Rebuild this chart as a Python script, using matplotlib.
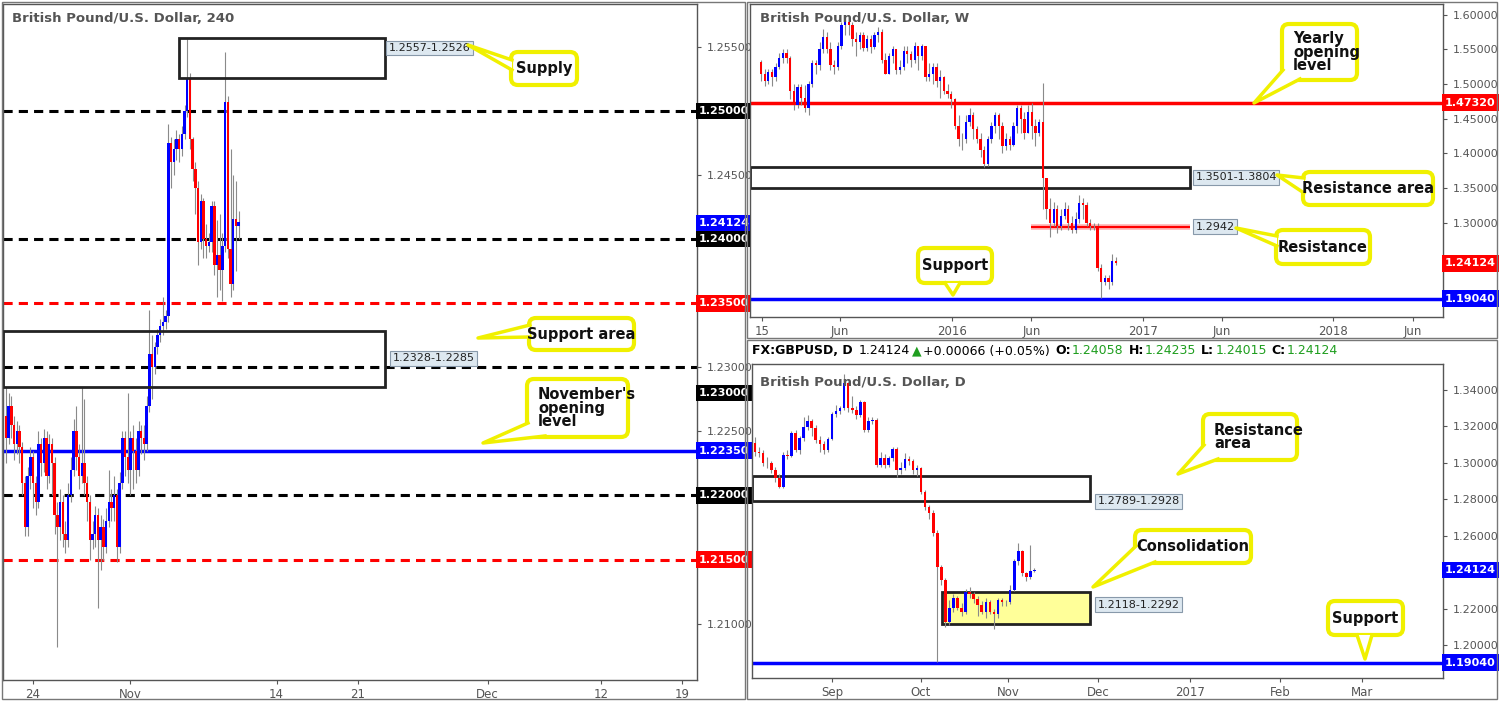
import matplotlib
matplotlib.use("Agg")
import matplotlib.pyplot as plt
from matplotlib.patches import Rectangle, FancyBboxPatch, Polygon
import matplotlib.transforms as mtrans
import numpy as np

plt.rcParams['font.family'] = ['DejaVu Sans']

# ---------------- data ----------------
# 4H candles (Oct 21 - Nov 10 2016), x in trading days from Oct 24
h4_first_open = 1.2262
h4_close = [1.2245,1.2270,1.2255,1.2240,1.2250,1.2238,1.2210,1.2175,1.2215,1.2230,
            1.2210,1.2195,1.2240,1.2225,1.2245,1.2215,1.2240,1.2225,1.2185,1.2175,
            1.2195,1.2170,1.2165,1.2200,1.2220,1.2250,1.2230,1.2215,1.2225,1.2210,
            1.2195,1.2165,1.2170,1.2185,1.2165,1.2175,1.2160,1.2180,1.2195,1.2190,
            1.2200,1.2160,1.2210,1.2245,1.2230,1.2220,1.2245,1.2235,1.2220,1.2250,
            1.2245,1.2240,1.2270,1.2310,1.2300,1.2316,1.2325,1.2332,1.2335,1.2340,
            1.2475,1.2460,1.2470,1.2478,1.2470,1.2482,1.2500,1.2525,1.2478,1.2455,
            1.2440,1.2398,1.2430,1.2400,1.2395,1.2398,1.2426,1.2380,1.2388,1.2376,
            1.2395,1.2507,1.2392,1.2365,1.2416,1.2410,1.2412]
h4_high = [1.2285,1.2280,1.2278,1.2262,1.2258,1.2255,1.2242,1.2215,1.2222,1.2238,
           1.2235,1.2215,1.2250,1.2245,1.2252,1.2250,1.2248,1.2245,1.2230,1.2195,
           1.2205,1.2200,1.2180,1.2210,1.2230,1.2260,1.2270,1.2240,1.2285,1.2275,
           1.2215,1.2200,1.2180,1.2192,1.2190,1.2185,1.2182,1.2190,1.2220,1.2205,
           1.2215,1.2205,1.2218,1.2250,1.2250,1.2280,1.2250,1.2255,1.2245,1.2258,
           1.2255,1.2255,1.2278,1.2345,1.2325,1.2320,1.2330,1.2338,1.2355,1.2345,
           1.2490,1.2480,1.2478,1.2485,1.2482,1.2488,1.2505,1.2556,1.2530,1.2480,
           1.2460,1.2445,1.2435,1.2432,1.2412,1.2405,1.2430,1.2430,1.2415,1.2420,
           1.2405,1.2546,1.2512,1.2470,1.2450,1.2445,1.2422]
h4_low = [1.2225,1.2240,1.2245,1.2228,1.2232,1.2225,1.2200,1.2168,1.2168,1.2205,
          1.2190,1.2185,1.2190,1.2215,1.2218,1.2205,1.2210,1.2200,1.2170,1.2082,
          1.2165,1.2160,1.2155,1.2160,1.2195,1.2215,1.2220,1.2205,1.2210,1.2200,
          1.2180,1.2150,1.2158,1.2160,1.2112,1.2142,1.2150,1.2155,1.2175,1.2180,
          1.2180,1.2148,1.2155,1.2205,1.2215,1.2210,1.2200,1.2205,1.2210,1.2215,
          1.2232,1.2228,1.2235,1.2265,1.2275,1.2295,1.2310,1.2320,1.2325,1.2330,
          1.2335,1.2440,1.2450,1.2462,1.2460,1.2465,1.2478,1.2495,1.2470,1.2445,
          1.2420,1.2380,1.2392,1.2385,1.2385,1.2390,1.2390,1.2372,1.2355,1.2360,
          1.2352,1.2390,1.2385,1.2355,1.2360,1.2375,1.2400]

# Weekly candles (from Jan 2015), x in weeks since 2015-01-01
w_first_open = 1.532
w_close = [1.515,1.505,1.518,1.510,1.525,1.538,1.545,1.538,1.490,1.470,
           1.495,1.480,1.465,1.500,1.530,1.528,1.550,1.568,1.550,1.528,
           1.525,1.555,1.585,1.590,1.585,1.565,1.560,1.570,1.552,1.565,
           1.553,1.570,1.575,1.535,1.515,1.540,1.550,1.520,1.525,1.548,
           1.543,1.535,1.555,1.540,1.555,1.510,1.515,1.525,1.505,1.510,
           1.490,1.485,1.478,1.440,1.420,1.420,1.445,1.455,1.435,1.420,
           1.405,1.385,1.420,1.440,1.455,1.440,1.410,1.420,1.412,1.440,
           1.465,1.450,1.430,1.460,1.440,1.430,1.445,1.365,1.320,1.300,
           1.320,1.295,1.310,1.320,1.300,1.290,1.305,1.328,1.325,1.300,
           1.295,1.295,1.235,1.215,1.220,1.215,1.245,1.2412]
w_high = [1.535,1.522,1.522,1.522,1.530,1.545,1.550,1.550,1.540,1.500,
          1.500,1.500,1.498,1.505,1.535,1.535,1.560,1.580,1.575,1.560,
          1.535,1.560,1.590,1.592,1.592,1.590,1.575,1.575,1.575,1.570,
          1.570,1.575,1.582,1.580,1.545,1.545,1.555,1.550,1.535,1.555,
          1.555,1.548,1.560,1.555,1.558,1.550,1.530,1.530,1.530,1.520,
          1.512,1.500,1.490,1.480,1.455,1.430,1.455,1.465,1.460,1.440,
          1.430,1.410,1.425,1.445,1.460,1.458,1.445,1.430,1.425,1.445,
          1.470,1.470,1.460,1.470,1.472,1.450,1.450,1.502,1.365,1.335,
          1.330,1.325,1.320,1.330,1.325,1.310,1.315,1.340,1.335,1.330,
          1.305,1.300,1.300,1.240,1.225,1.225,1.255,1.250]
w_low = [1.505,1.497,1.500,1.497,1.505,1.522,1.530,1.530,1.478,1.462,
         1.465,1.470,1.460,1.455,1.495,1.515,1.520,1.545,1.545,1.520,
         1.515,1.520,1.550,1.570,1.570,1.555,1.540,1.550,1.548,1.548,
         1.545,1.550,1.560,1.530,1.515,1.515,1.530,1.515,1.515,1.520,
         1.530,1.525,1.530,1.520,1.535,1.505,1.505,1.500,1.495,1.480,
         1.485,1.480,1.465,1.435,1.410,1.405,1.415,1.440,1.420,1.415,
         1.395,1.380,1.382,1.415,1.430,1.420,1.400,1.405,1.405,1.410,
         1.430,1.430,1.420,1.430,1.420,1.410,1.425,1.320,1.305,1.280,
         1.295,1.285,1.290,1.305,1.290,1.285,1.285,1.300,1.305,1.295,
         1.290,1.290,1.230,1.191,1.210,1.205,1.210,1.2385]

# Daily candles, x in trading days from Sep 1 2016 (first = -19)
d_first_open = 1.3107
d_close = [1.3061,1.3052,1.3000,1.2997,1.2960,1.2915,1.2869,1.3043,1.3040,1.3162,
           1.3070,1.3135,1.3199,1.3230,1.3190,1.3126,1.3102,1.3071,1.3131,1.3266,
           1.3285,1.3300,1.3437,1.3300,1.3290,1.3263,1.3336,1.3180,1.3230,1.3235,
           1.2988,1.3025,1.2988,1.3025,1.3076,1.2961,1.2974,1.3021,1.3010,1.2961,
           1.2974,1.2842,1.2760,1.2723,1.2613,1.2426,1.2357,1.2128,1.2201,1.2256,
           1.2201,1.2183,1.2293,1.2278,1.2253,1.2220,1.2183,1.2238,1.2183,1.2170,
           1.2247,1.2238,1.2234,1.2302,1.2461,1.2516,1.2393,1.2375,1.2408,1.2412]
d_high = [1.3140,1.3085,1.3070,1.3030,1.3010,1.2975,1.2940,1.3060,1.3070,1.3175,
          1.3180,1.3150,1.3250,1.3265,1.3240,1.3210,1.3150,1.3120,1.3140,1.3280,
          1.3320,1.3310,1.3486,1.3445,1.3370,1.3310,1.3345,1.3340,1.3250,1.3250,
          1.3245,1.3060,1.3050,1.3040,1.3090,1.3085,1.3005,1.3055,1.3040,1.3020,
          1.2990,1.2980,1.2850,1.2770,1.2740,1.2630,1.2440,1.2370,1.2250,1.2280,
          1.2270,1.2230,1.2310,1.2320,1.2290,1.2270,1.2240,1.2260,1.2250,1.2200,
          1.2260,1.2260,1.2250,1.2330,1.2470,1.2558,1.2520,1.2400,1.2549,1.2424]
d_low = [1.3040,1.3030,1.2985,1.2970,1.2945,1.2895,1.2860,1.2860,1.3020,1.3030,
         1.3060,1.3050,1.3120,1.3180,1.3150,1.3110,1.3060,1.3050,1.3060,1.3125,
         1.3250,1.3270,1.3290,1.3280,1.3275,1.3240,1.3250,1.3170,1.3170,1.3215,
         1.2980,1.2980,1.2970,1.2975,1.3010,1.2925,1.2940,1.2960,1.2990,1.2940,
         1.2930,1.2830,1.2740,1.2690,1.2600,1.1909,1.2330,1.2100,1.2110,1.2180,
         1.2190,1.2160,1.2170,1.2260,1.2230,1.2160,1.2170,1.2150,1.2170,1.2090,
         1.2150,1.2215,1.2215,1.2225,1.2295,1.2440,1.2380,1.2350,1.2360,1.2402]

W, H = 1499, 702
UP, DN, WICK = '#0000ff', '#ff0000', '#8a8a8a'
GRID = '#555555'

fig = plt.figure(figsize=(W/100, H/100), dpi=100)

def axes_px(x0, y0, x1, y1):
    return fig.add_axes([x0/W, 1-y1/H, (x1-x0)/W, (y1-y0)/H])

def candles(ax, x, first_open, c, h, l, width, lw=0.8):
    c = np.array(c); h = np.array(h); l = np.array(l)
    o = np.concatenate([[first_open], c[:-1]])
    ax.vlines(x, l, h, color=WICK, lw=lw, zorder=3)
    col = [UP if cc >= oo else DN for oo, cc in zip(o, c)]
    hgt = np.abs(c-o)
    hgt = np.where(hgt < 0.0003, 0.0003, hgt)
    ax.bar(x, hgt, width=width, bottom=np.minimum(o, c), color=col, zorder=4, linewidth=0)

def style(ax):
    for s in ax.spines.values():
        s.set_color(GRID); s.set_linewidth(1)
    ax.yaxis.tick_right()
    ax.tick_params(axis='both', labelsize=8, colors='#555555', length=3, width=0.8)
    ax.tick_params(axis='y', pad=4)
    ax.tick_params(axis='x', pad=3, labelsize=8.5)

def tag(ax, y, txt, color):
    tr = mtrans.blended_transform_factory(ax.transAxes, ax.transData)
    ax.text(1.003, y, txt, transform=tr, color='white', fontsize=8, fontweight='bold',
            va='center', ha='left', clip_on=False, zorder=20,
            bbox=dict(boxstyle='square,pad=0.3', fc=color, ec='none'))

def lbl(ax, x, y, txt):
    ax.text(x, y, txt, fontsize=8, color='#222222', va='center', ha='left', zorder=15,
            bbox=dict(boxstyle='square,pad=0.2', fc='#dde8f0', ec='#8899aa', lw=0.8))

# ---------------- left 4H ----------------
ax1 = axes_px(3, 4, 697, 680)
x4 = -1.667 + np.arange(len(h4_close))/6
candles(ax1, x4, h4_first_open, h4_close, h4_high, h4_low, 0.15)
ax1.set_xlim(-1.85, 40.9)
ax1.set_ylim(1.2056, 1.25835)
for y, c in [(1.2500, 'black'), (1.2400, 'black'), (1.2350, 'red'),
             (1.2300, 'black'), (1.2200, 'black'), (1.2150, 'red')]:
    ax1.axhline(y, color=c, ls='--', lw=2.2, dashes=(3, 2), zorder=2)
ax1.axhline(1.2235, color=UP, lw=2.5, zorder=2)
ax1.add_patch(Rectangle((9.0, 1.2526), 12.7, 0.0031, fc='none', ec='#222222', lw=2, zorder=5))
ax1.add_patch(Rectangle((-1.85, 1.2285), 23.55, 0.0043, fc='none', ec='#222222', lw=2, zorder=5))
lbl(ax1, 21.9, 1.2549, '1.2557-1.2526')
lbl(ax1, 22.15, 1.2307, '1.2328-1.2285')
ax1.set_xticks([0, 6, 15, 20, 28, 35, 40], ['24', 'Nov', '14', '21', 'Dec', '12', '19'])
ax1.set_yticks([1.2550, 1.2450, 1.2300, 1.2250, 1.2100],
               ['1.25500', '1.24500', '1.23000', '1.22500', '1.21000'])
style(ax1)
tag(ax1, 1.2500, '1.25000', 'black')
tag(ax1, 1.24124, '1.24124', UP)
tag(ax1, 1.2400, '1.24000', 'black')
tag(ax1, 1.2350, '1.23500', DN)
tag(ax1, 1.2280, '1.23000', 'black')
tag(ax1, 1.2235, '1.22350', UP)
tag(ax1, 1.2200, '1.22000', 'black')
tag(ax1, 1.2150, '1.21500', DN)

# ---------------- weekly ----------------
ax2 = axes_px(750, 4, 1443, 317)
xw = np.arange(len(w_close))
candles(ax2, xw, w_first_open, w_close, w_high, w_low, 0.62)
ax2.set_xlim(-3, 186.4)
ax2.set_ylim(1.164, 1.6154)
ax2.axhline(1.4732, color=DN, lw=2.5, zorder=2)
ax2.axhline(1.1904, color=UP, lw=2.5, zorder=2)
ax2.hlines(1.2942, 73.8, 117.2, color='#ffb0b0', lw=4, zorder=2)
ax2.hlines(1.2942, 73.8, 117.2, color=DN, lw=1.5, zorder=2)
ax2.add_patch(Rectangle((-3, 1.3501), 120.2, 0.0303, fc='white', ec='#222222', lw=2, zorder=2))
lbl(ax2, 118.8, 1.3652, '1.3501-1.3804')
lbl(ax2, 118.8, 1.2942, '1.2942')
ax2.set_xticks([0.3, 21.6, 52.1, 73.9, 104.3, 126.0, 156.4, 178.1],
               ['15', 'Jun', '2016', 'Jun', '2017', 'Jun', '2018', 'Jun'])
ax2.set_yticks([1.60, 1.55, 1.50, 1.45, 1.40, 1.35, 1.30],
               ['1.60000', '1.55000', '1.50000', '1.45000', '1.40000', '1.35000', '1.30000'])
style(ax2)
tag(ax2, 1.4732, '1.47320', DN)
tag(ax2, 1.24124, '1.24124', DN)
tag(ax2, 1.1904, '1.19040', UP)

# ---------------- daily ----------------
ax3 = axes_px(752, 364, 1443, 678)
xd = np.arange(len(d_close)) - 19
candles(ax3, xd, d_first_open, d_close, d_high, d_low, 0.65)
ax3.set_xlim(-19.75, 150.9)
ax3.set_ylim(1.1819, 1.3543)
ax3.axhline(1.1904, color=UP, lw=2.5, zorder=2)
ax3.add_patch(Rectangle((-19.75, 1.2789), 83.45, 0.0139, fc='white', ec='#222222', lw=2, zorder=2))
ax3.add_patch(Rectangle((27.2, 1.2118), 36.5, 0.0174, fc='#ffff99', ec='#222222', lw=2, zorder=2))
lbl(ax3, 65.6, 1.2789, '1.2789-1.2928')
lbl(ax3, 65.6, 1.2222, '1.2118-1.2292')
ax3.set_xticks([0, 22, 43.5, 65.7, 88.4, 110.6, 130.9],
               ['Sep', 'Oct', 'Nov', 'Dec', '2017', 'Feb', 'Mar'])
ax3.set_yticks([1.34, 1.32, 1.30, 1.28, 1.26, 1.22, 1.20],
               ['1.34000', '1.32000', '1.30000', '1.28000', '1.26000', '1.22000', '1.20000'])
style(ax3)
tag(ax3, 1.24124, '1.24124', UP)
tag(ax3, 1.1904, '1.19040', UP)

# ---------------- overlay (frames, titles, callouts) ----------------
ov = fig.add_axes([0, 0, 1, 1], zorder=30)
ov.set_xlim(0, W); ov.set_ylim(H, 0); ov.axis('off'); ov.patch.set_alpha(0)
for (x0, y0, x1, y1) in [(2, 2, 745, 699), (747, 2, 1497, 338), (747, 340, 1497, 699)]:
    ov.add_patch(Rectangle((x0, y0), x1-x0, y1-y0, fc='none', ec='#777777', lw=1))

tk = dict(fontsize=9.5, color='#555555', fontweight='bold', va='center')
ov.text(12, 19, 'British Pound/U.S. Dollar, 240', **tk)
ov.text(760, 19, 'British Pound/U.S. Dollar, W', **tk)
ov.text(760, 382, 'British Pound/U.S. Dollar, D', **tk)

# header line, chained left to right
G = '#1f9e1f'
renderer = fig.canvas.get_renderer()
parts = [('FX:GBPUSD, D', 'black', 'bold', 6), ('1.24124', 'black', 'normal', 2),
         ('▲', G, 'normal', 2), ('+0.00066 (+0.05%)', 'black', 'normal', 5),
         ('O:', 'black', 'bold', 1), ('1.24058', G, 'normal', 5),
         ('H:', 'black', 'bold', 1), ('1.24235', G, 'normal', 5),
         ('L:', 'black', 'bold', 1), ('1.24015', G, 'normal', 5),
         ('C:', 'black', 'bold', 1), ('1.24124', G, 'normal', 0)]
xcur = 752
inv = ov.transData.inverted()
for t, c, fw, gap in parts:
    tt = ov.text(xcur, 351, t, color=c, fontweight=fw, fontsize=9, va='center', ha='left')
    bb = tt.get_window_extent(renderer)
    xr = inv.transform((bb.x1, bb.y0))[0]
    xcur = xr + gap

YEL = '#f0f000'
def callout(x0, y0, x1, y1, base, tip, text, tx=None):
    ov.add_patch(FancyBboxPatch((x0, y0), x1-x0, y1-y0, boxstyle='round,pad=0,rounding_size=7',
                                fc='white', ec=YEL, lw=3, zorder=2))
    ov.add_patch(Polygon([base[0], base[1], tip], closed=True, fc='white', ec='none', zorder=3))
    ov.plot([base[0][0], tip[0], base[1][0]], [base[0][1], tip[1], base[1][1]], color=YEL, lw=2.5, zorder=3)
    if tx is None:
        ov.text((x0+x1)/2, (y0+y1)/2, text, ha='center', va='center', fontsize=10.5,
                fontweight='bold', color='#111111', zorder=4, linespacing=0.9)
    else:
        ov.text(tx, (y0+y1)/2, text, ha='left', va='center', fontsize=10.5,
                fontweight='bold', color='#111111', zorder=4, linespacing=0.9)

callout(511, 52, 577, 85, ((512, 60), (512, 70)), (468, 45), 'Supply')
callout(529, 318, 634, 350, ((530, 325), (530, 337)), (478, 338), 'Support area')
callout(527, 379, 628, 437, ((528, 423), (545, 436)), (483, 443), "November's\nopening\nlevel", tx=538)
callout(1282, 24, 1357, 80, ((1283, 70), (1300, 79)), (1254, 103), 'Yearly\nopening\nlevel', tx=1293)
callout(1303, 172, 1433, 205, ((1304, 178), (1304, 193)), (1277, 175), 'Resistance area')
callout(1276, 230, 1370, 264, ((1277, 236), (1277, 246)), (1236, 228), 'Resistance')
callout(918, 248, 992, 283, ((945, 283), (960, 283)), (953, 295), 'Support')
callout(1203, 414, 1297, 460, ((1204, 445), (1218, 459)), (1178, 474), 'Resistance\narea', tx=1214)
callout(1135, 530, 1251, 563, ((1136, 546), (1155, 562)), (1093, 587), 'Consolidation')
callout(1328, 601, 1403, 635, ((1357, 635), (1372, 635)), (1365, 659), 'Support')

fig.savefig('out.png', dpi=100)
